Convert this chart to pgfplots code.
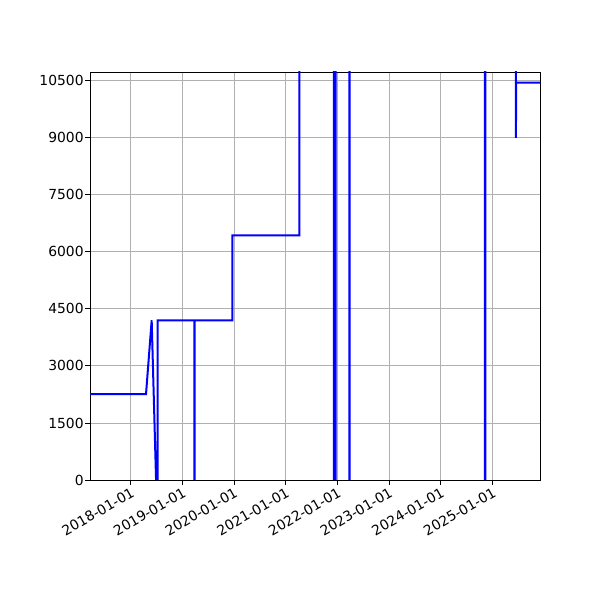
\documentclass[border=0pt]{standalone}
\usepackage{fontspec}
\setmainfont{DejaVu Sans}
\usepackage{pgfplots}
\pgfplotsset{compat=1.18}
\usepackage{pgfplotstable}

% x = days since 2018-01-01
\pgfplotstableread{
x y
-288 2260
108 2260
148 4200
179 0
190 0
190 4200
449 4200
449 0
451 0
451 4200
718 4200
718 6430
1192 6430
1192 14000
1436 14000
1436 0
1448 0
1448 14000
1545 14000
1545 0
1547 0
1547 14000
2504 14000
2504 0
2506 0
2506 14000
2723 14000
2723 9000
2724 10450
2893 10450
}\series

\begin{document}
\begin{tikzpicture}
  \useasboundingbox (0,0) rectangle (450pt,450pt);
  \begin{axis}[
    at={(67.5pt,90pt)}, anchor=south west,
    scale only axis,
    width=337.5pt, height=306pt,
    xmin=-288, xmax=2893,
    ymin=0, ymax=10730,
    xtick={0,365,730,1096,1461,1826,2191,2557},
    xticklabels={2018-01-01,2019-01-01,2020-01-01,2021-01-01,2022-01-01,2023-01-01,2024-01-01,2025-01-01},
    ytick={0,1500,3000,4500,6000,7500,9000,10500},
    scaled y ticks=false,
    /pgf/number format/assume math mode=true,
    /pgf/number format/set thousands separator={},
    /pgf/number format/fixed,
    xtick pos=bottom, ytick pos=left,
    tick align=outside,
    major tick length=3.6pt,
    tick style={black, line width=0.65pt},
    axis line style={line width=0.65pt},
    grid=major,
    major grid style={color=black!31, line width=0.65pt},
    ticklabel style={font=\fontsize{10.4pt}{12pt}\selectfont},
    xticklabel style={rotate=30, anchor=north east, inner sep=1pt},
    yticklabel style={inner sep=1pt},
  ]
  \addplot[blue, line width=1.5pt, line join=miter] table {\series};
  \end{axis}
\end{tikzpicture}
\end{document}
